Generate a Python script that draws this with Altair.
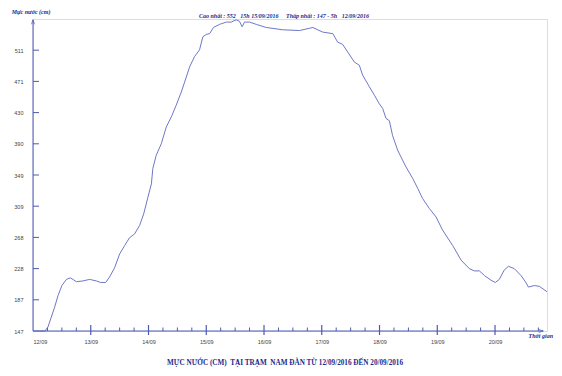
import altair as alt
import pandas as pd

# ---- data (hours since 12/09/2016 00:00, water level in cm) ----
hours = [0, 2.8, 4.9, 6.2, 7.6, 9.0, 10.4, 12.0, 13.9, 15.5, 16.6, 18.0, 20.8, 23.5,
         26.3, 28.1, 30.2, 31.8, 33.9, 36.0, 38.1, 40.1, 42.2, 44.3, 46.0, 47.7,
         49.2, 49.8, 51.2, 53.3, 55.4, 57.5, 59.5, 61.6, 63.0, 65.1, 67.1, 69.2,
         70.6, 72.0, 73.4, 75.0, 77.5, 80.3, 82.4, 84.4, 85.8, 86.9, 87.9, 90.0,
         92.8, 96.9, 103.8, 110.7, 114.9, 116.3, 120.4, 124.6, 126.6, 128.7,
         130.8, 133.6, 135.6, 137.0, 139.8, 141.9, 143.9, 145.3, 146.7, 148.1,
         149.4, 151.5, 152.9, 155.0, 157.8, 159.9, 161.9, 164.7, 167.5, 170.2,
         174.4, 177.9, 181.3, 183.4, 185.5, 187.6, 190.3, 192.1, 193.8, 195.8,
         197.6, 200.0, 202.8, 204.6, 205.9, 208.3, 210.4, 213.6]
levels = [147, 147, 147, 152, 165, 178, 193, 206, 214, 216, 214, 211, 212, 214,
          212, 210, 210, 217, 229, 247, 258, 268, 273, 284, 299, 320,
          338, 358, 375, 390, 412, 425, 440, 457, 470, 490, 503, 512,
          529, 532, 533, 541, 545, 548, 548, 551, 549, 542, 548, 548,
          545, 541, 538, 537, 540, 541, 535, 533, 522, 519,
          509, 496, 492, 479, 464, 453, 442, 436, 423, 420,
          401, 382, 373, 360, 345, 332, 319, 306, 295, 278,
          258, 239, 228, 225, 225, 219, 213, 210, 214, 226,
          231, 228, 219, 211, 204, 206, 205, 198]

day_labels = ["12/09", "13/09", "14/09", "15/09", "16/09", "17/09", "18/09", "19/09", "20/09"]
y_tick_values = [147, 187.5, 228, 268.5, 309, 349.5, 390, 430.5, 471, 511.5]
major_hours = [24 * i for i in range(len(day_labels))]
minor_hours = [h for h in range(0, 211, 6) if h % 24 != 0]

NB = "\u00a0"
title_text = f"MỰC NƯỚC (CM){NB}{NB}TẠI TRẠM{NB}{NB}NAM ĐÀN TỪ 12/09/2016 ĐẾN 20/09/2016"
note_text = (f"Cao nhất : 552{NB}{NB}{NB}15h 15/09/2016{NB}{NB}{NB}{NB}{NB}"
             f"Thấp nhất : 147 - 5h{NB}{NB}{NB}12/09/2016")
ytitle_text = "Mực nước (cm)"
xtitle_text = "Thời gian"

W, H = 514, 312
AXIS = "#4f59b0"
LINE = "#6f77c8"
TXT = "#1c2a8c"

xs = alt.Scale(domain=[0, 213.6], nice=False, zero=False)
ys = alt.Scale(domain=[147, 552], nice=False, zero=False)

label_expr = "[" + ",".join(f"'{d}'" for d in day_labels) + "][round(datum.value/24)]"

x_axis = alt.Axis(values=major_hours, labelExpr=label_expr, domain=False, ticks=False,
                  grid=False, labelFontSize=5.5, labelColor="#444", labelPadding=8,
                  title=None, labelFont="Liberation Sans")
y_axis = alt.Axis(values=y_tick_values, labelExpr="floor(datum.value)", domain=False,
                  ticks=False, grid=False, labelFontSize=5.5, labelColor="#444",
                  labelPadding=10, title=None, labelFont="Liberation Sans")

df = pd.DataFrame({"h": hours, "v": levels})

line = alt.Chart(df).mark_line(color=LINE, strokeWidth=1, clip=False).encode(
    x=alt.X("h:Q", scale=xs, axis=x_axis),
    y=alt.Y("v:Q", scale=ys, axis=y_axis),
)

ytick = alt.Chart(pd.DataFrame({"v": y_tick_values[1:]})).mark_rule(color=AXIS, strokeWidth=1).encode(
    y=alt.Y("v:Q", scale=ys, axis=y_axis), x=alt.value(0), x2=alt.value(6))

xminor = alt.Chart(pd.DataFrame({"h": minor_hours})).mark_rule(color=AXIS, strokeWidth=1).encode(
    x=alt.X("h:Q", scale=xs, axis=x_axis), y=alt.value(H - 3.5), y2=alt.value(H))

xmajor = alt.Chart(pd.DataFrame({"h": major_hours[1:]})).mark_rule(color=AXIS, strokeWidth=1.2).encode(
    x=alt.X("h:Q", scale=xs, axis=x_axis), y=alt.value(H - 6), y2=alt.value(H + 4))

xaxis_line = alt.Chart(pd.DataFrame({"a": [0]})).mark_rule(color=AXIS, strokeWidth=1).encode(
    x=alt.value(0), x2=alt.value(510), y=alt.value(H))
yaxis_line = alt.Chart(pd.DataFrame({"a": [0]})).mark_rule(color=AXIS, strokeWidth=1).encode(
    x=alt.value(0), y=alt.value(1), y2=alt.value(H))

yarrow = alt.Chart(pd.DataFrame({"a": [0]})).mark_point(
    shape="M-0.6,0.9L0,-1L0.6,0.9", filled=False, color=AXIS, size=25, strokeWidth=1).encode(
    x=alt.value(0), y=alt.value(3))
xarrow = alt.Chart(pd.DataFrame({"a": [0]})).mark_point(
    shape="M-0.9,-0.6L1,0L-0.9,0.6", filled=False, color=AXIS, size=25, strokeWidth=1).encode(
    x=alt.value(508), y=alt.value(H))


def text_layer(txt, x, y, size, italic=False, align="center"):
    return alt.Chart(pd.DataFrame({"t": [txt]})).mark_text(
        font="Liberation Serif", fontWeight="bold", fontStyle="italic" if italic else "normal",
        fontSize=size, color=TXT, align=align, baseline="middle").encode(
        text="t:N", x=alt.value(x), y=alt.value(y))


title = text_layer(title_text, 252, 344, 7.2)
note = text_layer(note_text, 251, -3, 6, italic=True)
ytitle = text_layer(ytitle_text, -2, -7, 6, italic=True)
xtitle = text_layer(xtitle_text, 520, H + 5, 6, italic=True, align="right")

chart = alt.layer(
    line, xaxis_line, yaxis_line, ytick, xminor, xmajor, yarrow, xarrow,
    title, note, ytitle, xtitle
).properties(
    width=W, height=H,
    autosize=alt.AutoSizeParams(type="none"),
    padding={"left": 25, "top": 11, "right": 7, "bottom": 37},
).configure_view(stroke=None).configure(background="white")

chart.save("out.html", embed_options={"renderer": "svg", "actions": False})
